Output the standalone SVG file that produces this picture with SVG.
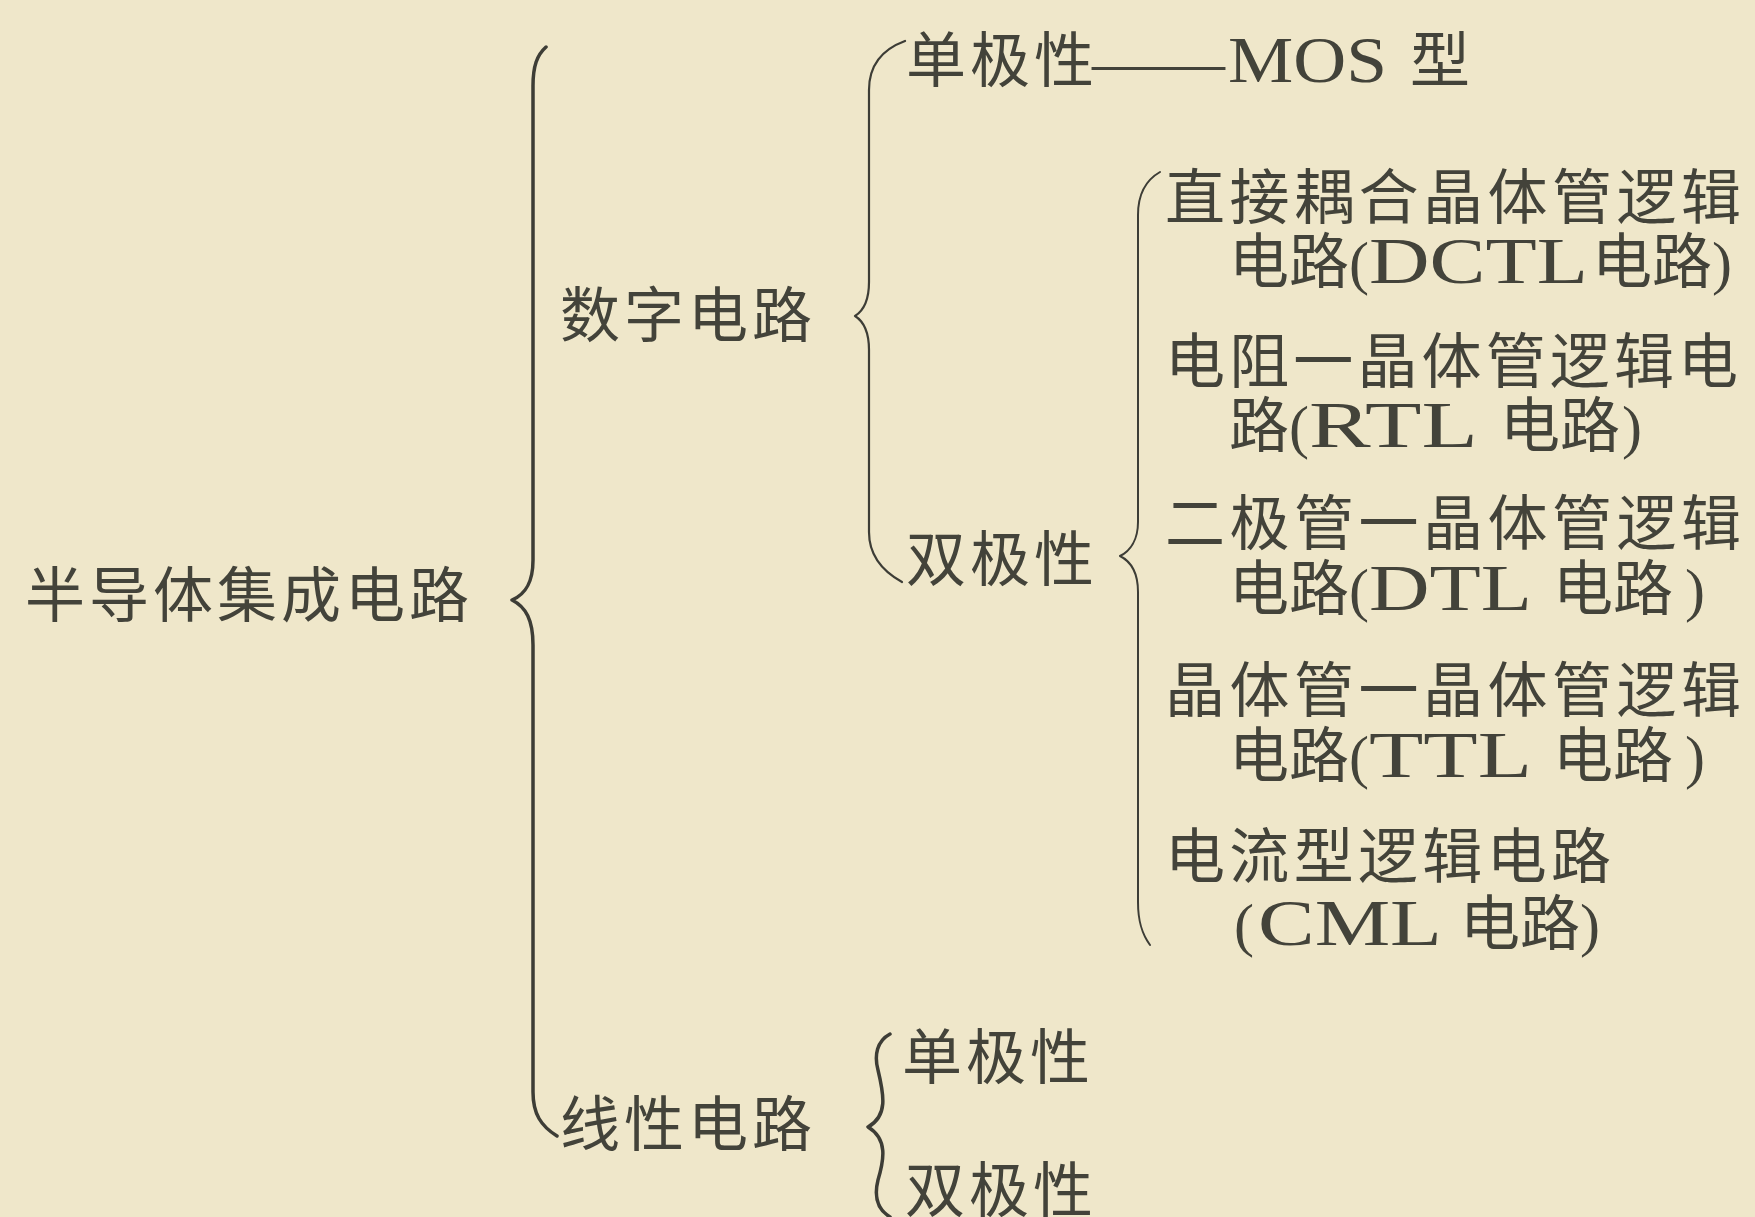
<svg xmlns="http://www.w3.org/2000/svg" width="1755" height="1217" viewBox="0 0 1755 1217">
<style>
.t{font-family:"Liberation Serif","Noto Sans CJK SC",serif;font-size:60px;fill:#43433a;letter-spacing:4px}
.c{letter-spacing:0}
.l{font-size:66px;letter-spacing:0}
.p{font-size:60px;letter-spacing:0}
.br{fill:none;stroke:#3d3d36;stroke-linecap:round;stroke-linejoin:round}
</style>
<rect x="0" y="0" width="1755" height="1217" fill="#efe7ca"/>
<g id="connectors">
<path class="br" stroke-width="3.5" d="M546 47 C537 55 533 66 533 86 L533 560 C533 582 526 594 512 600 C526 607 533 620 533 645 L533 1092 C533 1114 541 1126 557 1136"/>
<path class="br" stroke-width="2.2" d="M905 41 C886 48 869 62 869 90 L869 282 C869 300 863 311 855 316 C863 321 869 332 869 350 L869 532 C869 556 884 572 902 582"/>
<path class="br" stroke-width="2" d="M1160 172 C1146 180 1138 193 1138 215 L1138 522 C1138 540 1130 551 1120 556 C1130 561 1138 572 1138 592 L1138 902 C1138 922 1142 934 1150 945"/>
<path class="br" stroke-width="3.5" d="M890 1034 C877 1041 874 1055 878 1070 C884 1095 888 1116 868 1127 C888 1139 884 1160 878 1180 C874 1196 877 1209 890 1217"/>
</g>
<g id="n-root"><text class="t" x="25" y="617">半导体集成电路</text></g>
<g id="n-digital"><text class="t" x="560" y="337">数字电路</text></g>
<g id="n-linear"><text class="t" x="560" y="1146">线性电路</text></g>
<g id="n-d-unipolar"><text class="t" x="906" y="82">单极性<tspan class="c" x="1092" y="82" textLength="133" lengthAdjust="spacingAndGlyphs">——</tspan><tspan class="l" x="1228" y="82" textLength="159" lengthAdjust="spacingAndGlyphs">MOS</tspan><tspan x="1410" y="82">型</tspan></text></g>
<g id="n-d-bipolar"><text class="t" x="906" y="581">双极性</text></g>
<g id="n-dctl">
<text class="t" x="1165" y="219" textLength="580">直接耦合晶体管逻辑</text>
<text class="t c" y="283"><tspan x="1229">电</tspan><tspan x="1289">路</tspan><tspan class="p" x="1349">(</tspan><tspan class="l" x="1369" textLength="219" lengthAdjust="spacingAndGlyphs">DCTL</tspan><tspan x="1592">电</tspan><tspan x="1652">路</tspan><tspan class="p" x="1712">)</tspan></text>
</g>
<g id="n-rtl">
<text class="t" x="1165" y="383" textLength="577">电阻一晶体管逻辑电</text>
<text class="t c" y="447"><tspan x="1229">路</tspan><tspan class="p" x="1289">(</tspan><tspan class="l" x="1309" textLength="169" lengthAdjust="spacingAndGlyphs">RTL</tspan><tspan x="1500">电</tspan><tspan x="1560">路</tspan><tspan class="p" x="1622">)</tspan></text>
</g>
<g id="n-dtl">
<text class="t" x="1165" y="545" textLength="580">二极管一晶体管逻辑</text>
<text class="t c" y="610"><tspan x="1229">电</tspan><tspan x="1289">路</tspan><tspan class="p" x="1349">(</tspan><tspan class="l" x="1369" textLength="163" lengthAdjust="spacingAndGlyphs">DTL</tspan><tspan x="1553">电</tspan><tspan x="1613">路</tspan><tspan class="p" x="1685">)</tspan></text>
</g>
<g id="n-ttl">
<text class="t" x="1165" y="712" textLength="580">晶体管一晶体管逻辑</text>
<text class="t c" y="777"><tspan x="1229">电</tspan><tspan x="1289">路</tspan><tspan class="p" x="1349">(</tspan><tspan class="l" x="1369" textLength="163" lengthAdjust="spacingAndGlyphs">TTL</tspan><tspan x="1553">电</tspan><tspan x="1613">路</tspan><tspan class="p" x="1685">)</tspan></text>
</g>
<g id="n-cml">
<text class="t" x="1165" y="878" textLength="450">电流型逻辑电路</text>
<text class="t c" y="945"><tspan class="p" x="1234">(</tspan><tspan class="l" x="1258" textLength="184" lengthAdjust="spacingAndGlyphs">CML</tspan><tspan x="1460">电</tspan><tspan x="1520">路</tspan><tspan class="p" x="1580">)</tspan></text>
</g>
<g id="n-l-unipolar"><text class="t" x="902" y="1079">单极性</text></g>
<g id="n-l-bipolar"><text class="t" x="905" y="1212">双极性</text></g>
</svg>
